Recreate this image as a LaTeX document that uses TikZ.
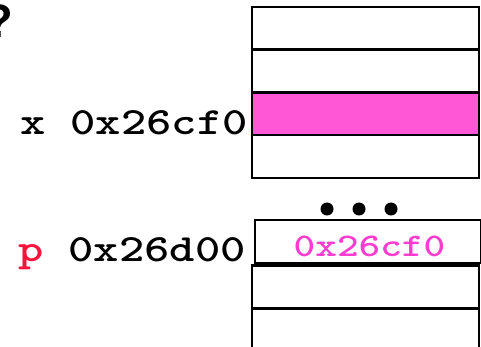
\documentclass[tikz,border=0pt]{standalone}
\usepackage{fontspec}
\setsansfont{Liberation Sans}
% wide slab-serif monospace for addresses
\newfontfamily\addrfont[FakeStretch=1.25]{Latin Modern Mono Light}
\definecolor{hot}{RGB}{255,87,213}
\definecolor{hottext}{RGB}{255,60,208}
\definecolor{varred}{RGB}{250,20,60}
\begin{document}
\begin{tikzpicture}[x=1pt,y=-1pt,
  cell/.style={draw=black,line width=2.5pt,minimum width=227pt,minimum height=42.75pt,inner sep=0pt,outer sep=0pt,anchor=north west},
  lbl/.style={font=\fontsize{38.5}{38.5}\selectfont\addrfont\bfseries,inner sep=0pt,anchor=base west},
  dot/.style={circle,fill=black,minimum size=13pt,inner sep=0pt}]
\useasboundingbox (0,0) rectangle (481,347);
\clip (0,0) rectangle (481,347);
% variable x: four memory words, the third one highlighted
\node[cell] (t1) at (252,7) {};
\node[cell] (t2) at (252,49.75) {};
\node[cell,fill=hot] (t3) at (252,92.5) {};
\node[cell] (t4) at (252,135.25) {};
% continuation dots
\node[dot] (d1) at (327,209) {};
\node[dot] (d2) at (359,209) {};
\node[dot] (d3) at (391,209) {};
% variable p holding the address of x
\node[cell,minimum width=226pt] (b1) at (255,220) {};
\node[font=\fontsize{33}{33}\selectfont\addrfont\bfseries,text=hottext,inner sep=0pt,anchor=base] (pv) at (369.5,256) {0x26cf0};
\node[cell] (b2) at (252,265.5) {};
\node[cell] (b3) at (252,308.25) {};
% labels
\node[lbl] (xl) at (20,134.5) {x 0x26cf0};
\node[lbl] (pl) at (18,261.5) {{\color{varred}p} 0x26d00};
\node[font=\fontsize{47}{47}\selectfont\sffamily\bfseries,inner sep=0pt,anchor=base] (q) at (-1,38) {?};
\end{tikzpicture}
\end{document}
